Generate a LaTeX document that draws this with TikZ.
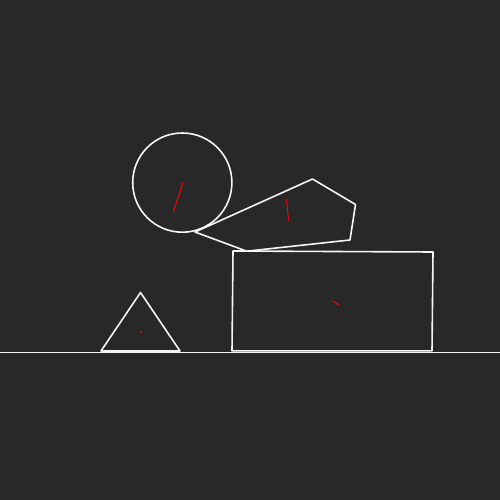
\documentclass[tikz,border=0pt]{standalone}
\definecolor{bg}{RGB}{40,40,40}
\definecolor{ln}{RGB}{245,245,245}
\definecolor{mk}{RGB}{255,0,0}
\begin{document}
\begin{tikzpicture}[x=1pt,y=-1pt,
  body/.style={draw=ln,line width=1.6pt,line join=round},
  ground/.style={draw=ln,line width=1pt},
  redline/.style={draw=mk,line width=1pt}]
\fill[bg] (0,0) rectangle (500,500);
\useasboundingbox (0,0) rectangle (500,500);
% ground
\draw[ground] (0,352.2) -- (500,352.2);
% triangle
\draw[body] (101,351) -- (140.5,292.5) -- (180,351) -- cycle;
\fill[mk] (141,332) circle (1);
% box
\draw[body] (233,251) -- (433,252) -- (432,350.8) -- (232,350.8) -- cycle;
\draw[redline] (332.5,301) -- (339,305);
% circle
\draw[body] (182.3,182.6) circle (49.6);
\draw[redline] (183,182.5) -- (173.5,211.5);
% pentagon
\draw[body] (195,232) -- (312.5,179) -- (355.5,204.5) -- (350,240) -- (246.7,251.2) -- cycle;
\draw[redline] (286.5,199) -- (288.5,220.5);
\end{tikzpicture}
\end{document}
